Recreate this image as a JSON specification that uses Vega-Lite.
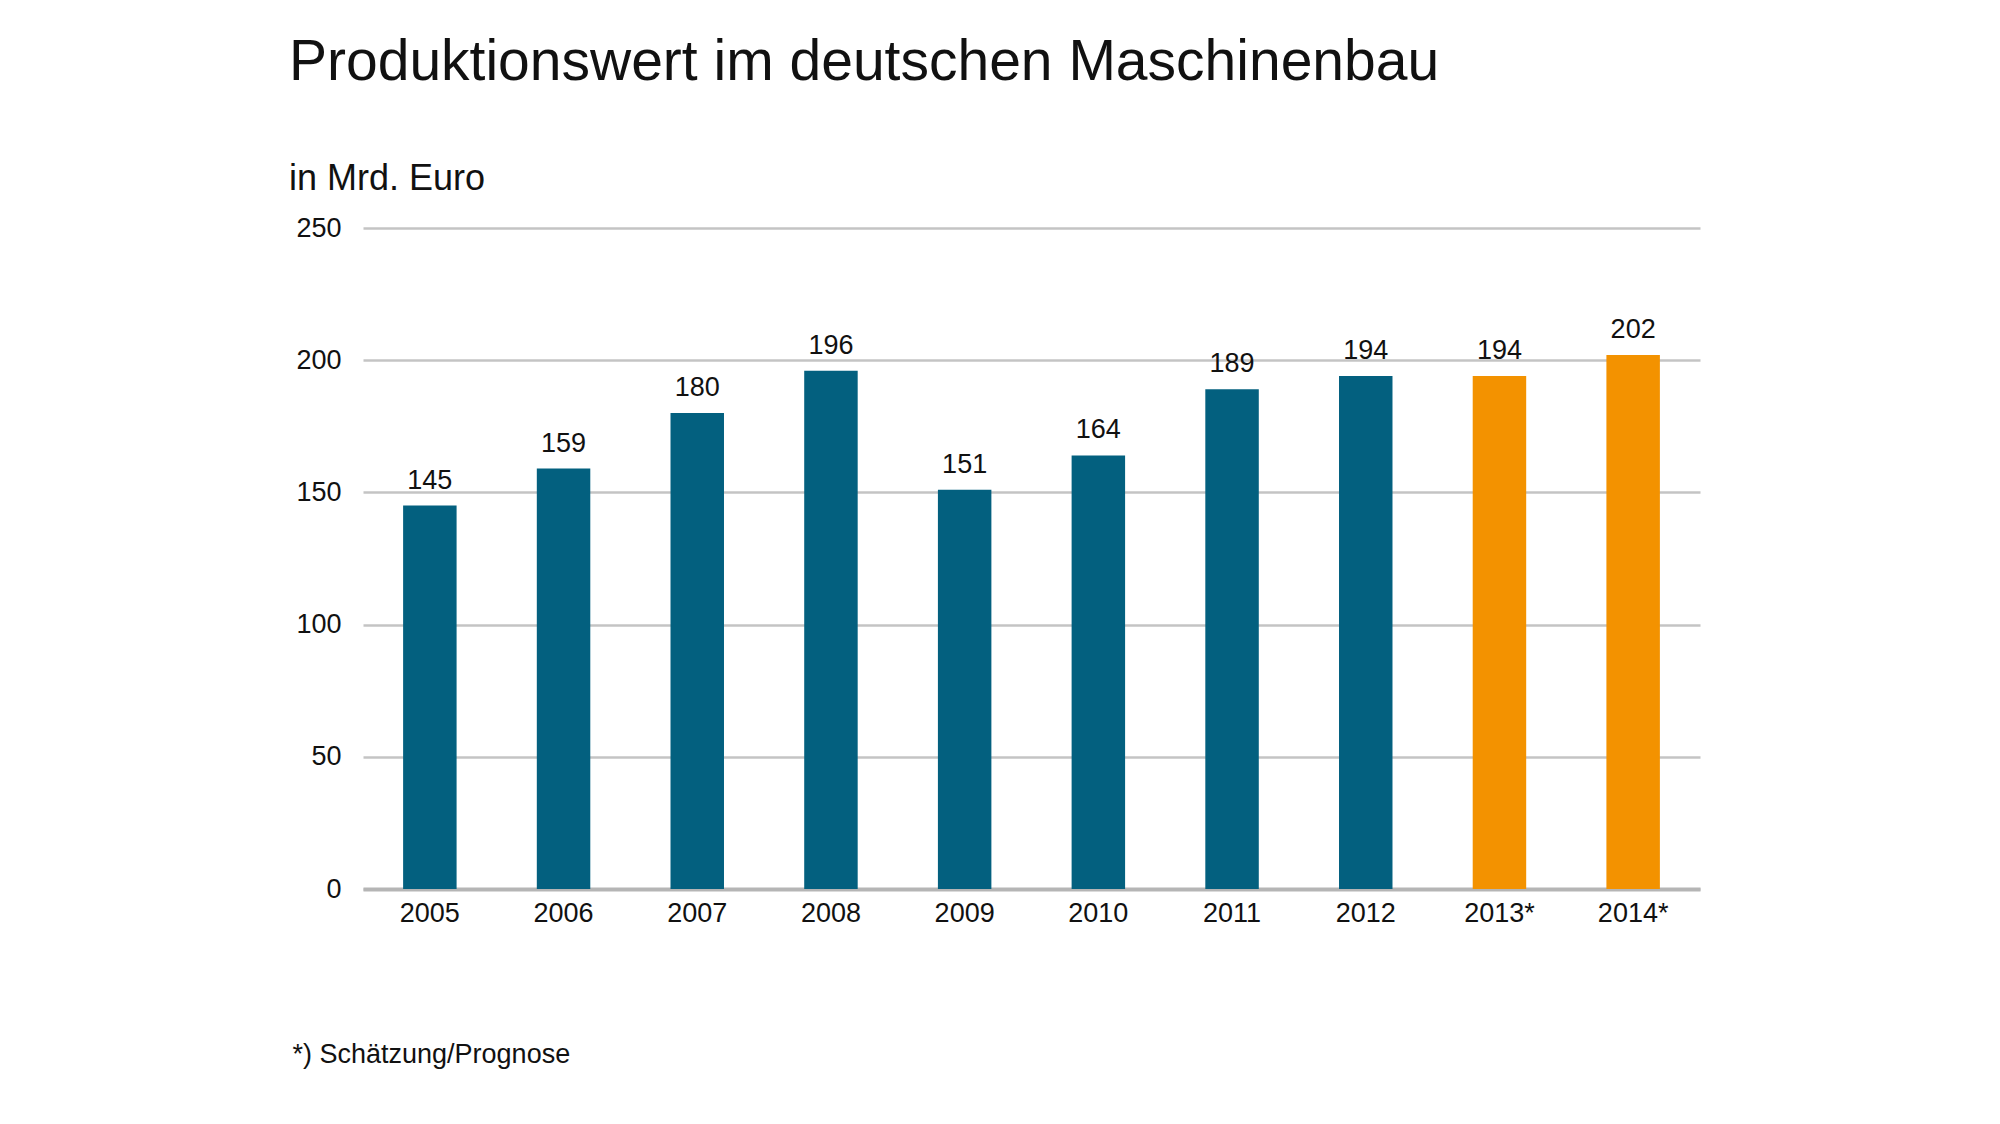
{
  "$schema": "https://vega.github.io/schema/vega-lite/v6.json",
  "width": 1337,
  "height": 661,
  "autosize": {"type": "none"},
  "padding": {"left": 363, "top": 228, "right": 300, "bottom": 235},
  "background": "#ffffff",
  "title": {
    "text": "Produktionswert im deutschen Maschinenbau",
    "subtitle": "in Mrd. Euro",
    "anchor": "start",
    "frame": "group",
    "dx": -74,
    "font": "Liberation Sans",
    "fontSize": 57,
    "fontWeight": "normal",
    "color": "#111111",
    "subtitleFont": "Liberation Sans",
    "subtitleFontSize": 36,
    "subtitleColor": "#111111",
    "subtitlePadding": 70,
    "offset": 16
  },
  "data": {
    "values": [
      {"jahr": "2005", "wert": 145, "art": "Ist"},
      {"jahr": "2006", "wert": 159, "art": "Ist"},
      {"jahr": "2007", "wert": 180, "art": "Ist"},
      {"jahr": "2008", "wert": 196, "art": "Ist"},
      {"jahr": "2009", "wert": 151, "art": "Ist"},
      {"jahr": "2010", "wert": 164, "art": "Ist"},
      {"jahr": "2011", "wert": 189, "art": "Ist"},
      {"jahr": "2012", "wert": 194, "art": "Ist"},
      {"jahr": "2013*", "wert": 194, "art": "Prognose"},
      {"jahr": "2014*", "wert": 202, "art": "Prognose"}
    ]
  },
  "encoding": {
    "x": {
      "field": "jahr",
      "type": "nominal",
      "sort": null,
      "scale": {"paddingInner": 0.6, "paddingOuter": 0.3},
      "axis": {
        "title": "*) Schätzung/Prognose",
        "titleFont": "Liberation Sans",
        "titleFontSize": 27,
        "titleFontWeight": "normal",
        "titleColor": "#111111",
        "titleAnchor": "start",
        "titleAlign": "left",
        "titleBaseline": "middle",
        "titleX": -71,
        "titleY": 165,
        "labelAngle": 0,
        "labelFont": "Liberation Sans",
        "labelFontSize": 27,
        "labelColor": "#111111",
        "labelPadding": 11,
        "ticks": false,
        "domain": true,
        "domainColor": "#b5b5b5",
        "domainWidth": 4,
        "grid": false
      }
    },
    "y": {
      "field": "wert",
      "type": "quantitative",
      "scale": {"domain": [0, 250], "nice": false},
      "axis": {
        "title": null,
        "values": [0, 50, 100, 150, 200, 250],
        "labelFont": "Liberation Sans",
        "labelFontSize": 27,
        "labelColor": "#111111",
        "labelPadding": 22,
        "ticks": false,
        "domain": false,
        "grid": true,
        "gridColor": "#c4c4c4",
        "gridWidth": 2.5
      }
    }
  },
  "layer": [
    {
      "mark": {"type": "bar"},
      "encoding": {
        "color": {
          "field": "art",
          "type": "nominal",
          "scale": {"domain": ["Ist", "Prognose"], "range": ["#03607f", "#f39200"]},
          "legend": null
        }
      }
    },
    {
      "mark": {
        "type": "text",
        "baseline": "alphabetic",
        "dy": -17,
        "font": "Liberation Sans",
        "fontSize": 27,
        "color": "#111111"
      },
      "encoding": {
        "text": {"field": "wert", "type": "quantitative"}
      }
    }
  ],
  "config": {
    "view": {"stroke": null}
  }
}
